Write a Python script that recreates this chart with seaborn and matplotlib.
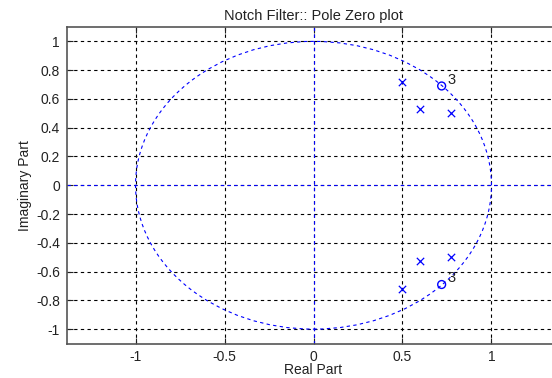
import numpy as np
import pandas as pd
import matplotlib
matplotlib.use("Agg")
import matplotlib.pyplot as plt
import seaborn as sns
from matplotlib.patches import Circle

# Data
pole_re = [0.50, 0.60, 0.77, 0.50, 0.60, 0.77]
pole_im = [0.72, 0.53, 0.50, -0.72, -0.53, -0.50]
zero_re = [0.72, 0.72]
zero_im = [0.69, -0.69]
zero_mult = ["3", "3"]
xticks = [-1, -0.5, 0, 0.5, 1]
yticks = [-1, -0.8, -0.6, -0.4, -0.2, 0, 0.2, 0.4, 0.6, 0.8, 1]

sns.set_style("white")
plt.rcParams['font.family'] = ['Liberation Sans', 'DejaVu Sans']

fig = plt.figure(figsize=(5.52, 3.78), dpi=100)
W, H = 552, 378
left, right, top, bottom = 67, 560, 27, 343.5
ax = fig.add_axes([left / W, 1 - bottom / H, (right - left) / W, (bottom - top) / H])

blue = "#0000ff"
poles = pd.DataFrame({"re": pole_re, "im": pole_im})
zeros = pd.DataFrame({"re": zero_re, "im": zero_im})

# grid
ax.set_xlim(-1.385, 1.385)
ax.set_ylim(-1.1, 1.1)
ax.set_xticks(xticks)
ax.set_yticks(yticks)
ax.set_xticklabels(["-1", "-0.5", "0", "0.5", "1"])
ax.set_yticklabels(["-1", "-0.8", "-0.6", "-0.4", "-0.2", "0", "0.2", "0.4", "0.6", "0.8", "1"])
ax.grid(True, color="black", linestyle=(0, (3, 3)), linewidth=0.8)
ax.set_axisbelow(True)

# unit circle and axes lines
ax.add_patch(Circle((0, 0), 1, fill=False, edgecolor=blue, linestyle=(0, (3, 3)), linewidth=0.8, zorder=2))
ax.axhline(0, color=blue, linestyle=(0, (3, 3)), linewidth=0.8, zorder=2)
ax.axvline(0, color=blue, linestyle=(0, (3, 3)), linewidth=0.8, zorder=2)

sns.scatterplot(data=poles, x="re", y="im", marker="x", color=blue, s=28, linewidth=0.9, ax=ax, zorder=3)
sns.scatterplot(data=zeros, x="re", y="im", marker="o", facecolor="none", edgecolor=blue, s=32, linewidth=1.0, ax=ax, zorder=3)
for xr, yi, m in zip(zero_re, zero_im, zero_mult):
    ax.text(xr + 0.03, yi + 0.045, m, fontsize=10.5, color="#222222", ha="left", va="center")

ax.set_title("Notch Filter:: Pole Zero plot", fontsize=10.5, color="#222222", pad=5)
ax.set_xlabel("Real Part", fontsize=10, color="#222222", labelpad=-1)
ax.set_ylabel("Imaginary Part", fontsize=10, color="#222222", labelpad=3)
ax.tick_params(axis="both", direction="in", length=4, labelsize=10, colors="#222222", pad=5,
               top=True, right=True, bottom=True, left=True)
for s in ax.spines.values():
    s.set_color("#555555")
    s.set_linewidth(1.2)
    s.set_visible(True)

fig.savefig("out.png", dpi=100)
